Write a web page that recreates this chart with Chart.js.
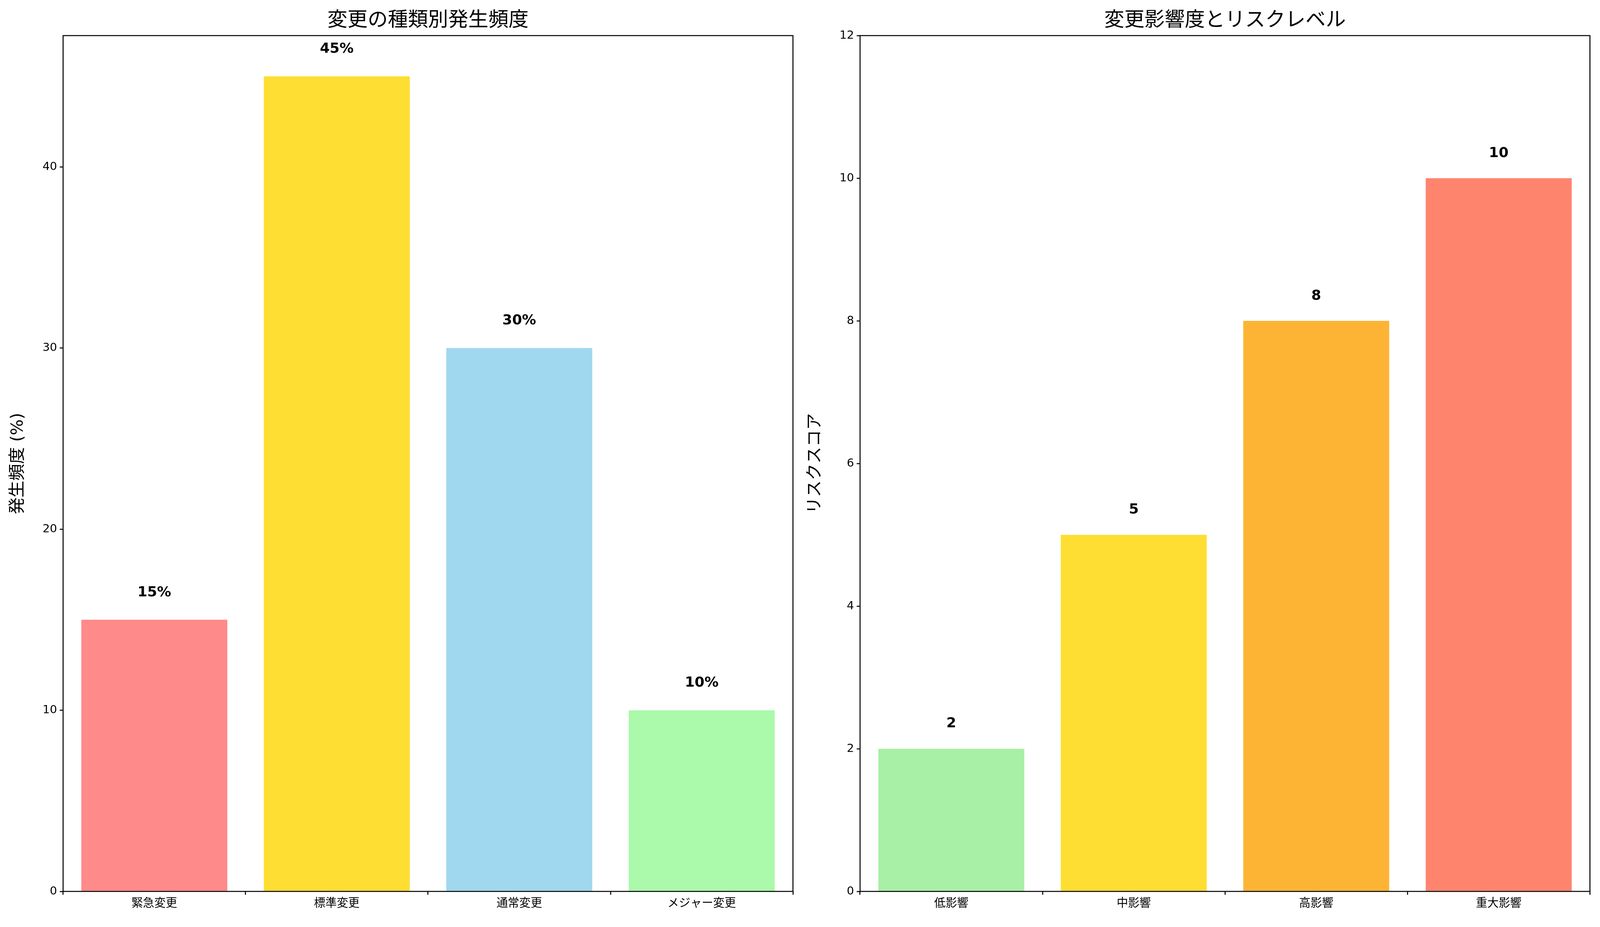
<!DOCTYPE html>
<html><head><meta charset="utf-8">
<script src="https://cdn.jsdelivr.net/npm/chart.js@4"></script>
<style>html,body{margin:0;background:#fff;overflow:hidden}#w{position:relative;width:100vw;height:100vh}
.c{position:absolute;top:0;width:50vw;height:100vh}</style></head>
<body><div id="w"><div class="c" style="left:0"><canvas id="c1"></canvas></div><div class="c" style="left:50vw"><canvas id="c2"></canvas></div></div>
<script>
var typeLabels = ["緊急変更", "標準変更", "通常変更", "メジャー変更"];
var typeFreq = [15, 45, 30, 10];
var typeColors = ["#FF8A8A", "#FEDE33", "#A0D8EF", "#ABF9AA"];
var impactLabels = ["低影響", "中影響", "高影響", "重大影響"];
var riskScore = [2, 5, 8, 10];
var impactColors = ["#A8F0A5", "#FEDE33", "#FDB435", "#FF846E"];
var F = "'DejaVu Sans','Noto Sans CJK JP',sans-serif";
var S = window.innerWidth / 4768;

function make(id, labels, data, colors, title, ytitle, ymax, step, offs, suffix, padL, padR){
  var deco = {
    id: "deco",
    afterDraw: function(ch){
      var c = ch.ctx, a = ch.chartArea;
      c.save();
      c.strokeStyle = "#000"; c.lineWidth = 3 * S;
      c.strokeRect(a.left, a.top, a.right - a.left, a.bottom - a.top);
      c.fillStyle = "#000"; c.textAlign = "center";
      c.font = (60 * S) + "px " + F; c.textBaseline = "bottom";
      c.fillText(title, (a.left + a.right) / 2, a.top - 14 * S);
      c.font = "bold " + (42 * S) + "px " + F; c.textBaseline = "middle";
      ch.getDatasetMeta(0).data.forEach(function(b, i){
        c.fillText(data[i] + suffix, b.x, ch.scales.y.getPixelForValue(data[i] + offs));
      });
      c.font = (50 * S) + "px " + F;
      c.translate((padL - 133) * S, (a.top + a.bottom) / 2); c.rotate(-Math.PI / 2);
      c.fillText(ytitle, 0, 0);
      c.restore();
    }
  };
  new Chart(document.getElementById(id), {
    type: "bar",
    data: { labels: labels, datasets: [{ data: data, backgroundColor: colors, barPercentage: 0.8, categoryPercentage: 1 }] },
    options: {
      responsive: true, maintainAspectRatio: false, animation: false,
      layout: { padding: { top: 106 * S, right: padR * S, left: 0, bottom: 0 } },
      plugins: { legend: { display: false }, tooltip: { enabled: false } },
      scales: {
        x: { grid: { drawOnChartArea: false, color: "#000", tickLength: 10 * S, lineWidth: 3 * S }, border: { display: false },
             ticks: { color: "#000", font: { size: 34 * S, family: F }, padding: 6 * S },
             afterFit: function(s){ s.height = 106 * S; } },
        y: { min: 0, max: ymax, grid: { drawOnChartArea: false, color: "#000", tickLength: 10 * S, lineWidth: 3 * S }, border: { display: false },
             ticks: { stepSize: step, color: "#000", font: { size: 34 * S, family: F }, padding: 8 * S },
             afterBuildTicks: function(s){ s.ticks = s.ticks.filter(function(t){ return t.value % step === 0; }); },
             afterFit: function(s){ s.width = padL * S; } }
      }
    },
    plugins: [deco]
  });
}
make("c1", typeLabels, typeFreq, typeColors, "変更の種類別発生頻度", "発生頻度 (%)", 47.25, 10, 1.5, "%", 188, 21);
make("c2", impactLabels, riskScore, impactColors, "変更影響度とリスクレベル", "リスクスコア", 12, 2, 0.35, "", 179, 30);
</script></body></html>
